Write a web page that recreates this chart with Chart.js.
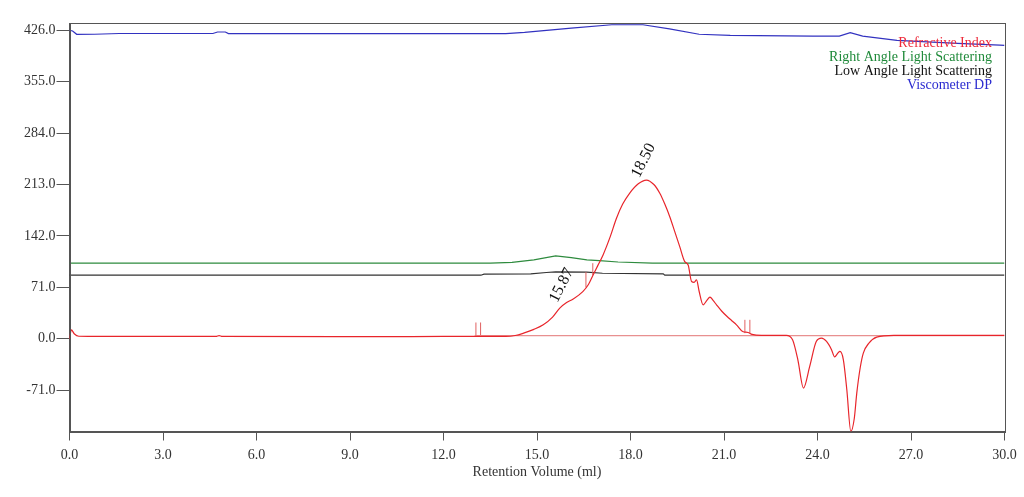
<!DOCTYPE html>
<html><head><meta charset="utf-8">
<script src="https://cdn.jsdelivr.net/npm/chart.js@4.4.1/dist/chart.umd.min.js"></script>
<style>html,body{margin:0;padding:0;background:#fff}#wrap{width:1024px;height:497px;position:relative}</style>
</head><body><div id="wrap"><canvas id="c"></canvas></div>
<script>
// ---- tick labels ----
const xTickValues = [0,3,6,9,12,15,18,21,24,27,30];
const yTickValues = [-71,0,71,142,213,284,355,426];
const xTitle = 'Retention Volume (ml)';

// ---- legend ----
const legendLabels = ['Refractive Index','Right Angle Light Scattering','Low Angle Light Scattering','Viscometer DP'];
const legendColors = ['#ee2a3a','#1f8a3a','#111111','#2a2ad0'];

// ---- Refractive Index (ml, mV) ----
const riX = [0,0.06,0.15,0.3,1,4.7,4.8,4.9,10,12,14.0,14.3,14.57,14.9,15.2,15.5,15.73,15.95,16.15,16.47,16.65,16.8,16.95,17.12,17.35,17.55,17.75,17.97,18.25,18.51,18.75,18.94,19.1,19.26,19.42,19.58,19.74,19.85,19.96,20.04,20.12,20.2,20.33,20.45,20.55,20.65,20.76,20.93,21.1,21.25,21.4,21.6,21.77,21.9,22.2,23.0,23.2,23.37,23.55,23.75,23.96,24.13,24.29,24.45,24.55,24.65,24.72,24.83,24.94,25.07,25.18,25.26,25.37,25.47,25.65,25.9,26.45,30];
const riY = [0,12.4,7,3.5,3.2,3.2,4.5,3.2,3.0,3.2,3.2,4.5,7.8,13,19.3,30,42.3,50,54.7,65.2,75,88.2,101,115.8,141,166.4,186,200.9,214,219.2,213,200.9,186,168.6,148,127.2,106.6,102,79,78,81.3,66,46.9,53,57.5,53,46.9,38,30.7,25,19.3,10,8.7,6,4.6,4.6,-1.4,-29,-68,-38,-3.7,1,-3.7,-15,-25,-20,-17.5,-29,-70,-127.8,-110,-75,-40,-19.7,-6,2.3,4.6,4.6];

// ---- RI baseline ----
const baseX = [13.0,30];
const baseY = [4.3,4.3];

// ---- Right Angle Light Scattering ----
const ralsX = [0,13.5,14.2,14.9,15.6,16.1,16.6,17.0,17.6,18.7,30];
const ralsY = [104.4,104.4,105.5,109,114.4,112,109,108,106,104.4,104.4];

// ---- Low Angle Light Scattering ----
const lalsX = [0,13.2,13.3,14.8,15.3,15.6,16.6,17.1,19.05,19.1,30];
const lalsY = [87.8,87.8,89.3,89.5,91.5,92.3,92,90.5,89.6,87.8,87.8];

// ---- Viscometer DP ----
const vdpX = [0,0.1,0.23,0.8,1.6,4.6,4.75,5.0,5.1,14,14.6,16.1,17.4,18.4,19.25,20.2,21.2,23.85,24.7,25.05,25.45,26.55,28.5,29.85,30];
const vdpY = [426,425,420.4,420.5,421.5,421.5,423.6,423.6,421.4,421.4,423,429,433.6,433.6,428,420.5,419,418,418,422.8,418,412,408,405.5,405];

// ---- slice markers (ml, from, to) ----
const markerX = [13.04,13.19,16.57,16.79,21.67,21.83];
const markerFrom = [4,4,71,88,7.8,7.8];
const markerTo = [22.5,22.5,92,104.4,26.2,26.2];

// ---- peak labels ----
const peakLabels = ['15.87','18.50'];
const peakX = [15.87,18.50];
const peakY = [47,219.2];

const zip = (xs, ys) => xs.map((x, i) => ({x, y: ys[i]}));
const serif = 'Liberation Serif, "Times New Roman", serif';

const datasets = [
  {label:'Viscometer DP', data: zip(vdpX, vdpY), borderColor:'#3232c0', borderWidth:1.2, order:4},
  {label:'Low Angle Light Scattering', data: zip(lalsX, lalsY), borderColor:'#333333', borderWidth:1.2, order:3},
  {label:'Right Angle Light Scattering', data: zip(ralsX, ralsY), borderColor:'#2e8b3e', borderWidth:1.2, order:2},
  {label:'baseline', data: zip(baseX, baseY), borderColor:'#e89090', borderWidth:1.2, order:1},
];
markerX.forEach((m, i) => {
  datasets.push({label:'marker', data:[{x:m,y:markerFrom[i]},{x:m,y:markerTo[i]}], borderColor:'#e06060', borderWidth:1, order:1});
});
datasets.push({label:'Refractive Index', data: zip(riX, riY), borderColor:'#e8252b', borderWidth:1.2, cubicInterpolationMode:'monotone', order:0});

const framePlugin = {
  id:'frame',
  afterDatasetsDraw(chart){
    const {ctx, chartArea:a} = chart;
    ctx.save();
    ctx.strokeStyle = '#555'; ctx.lineWidth = 1;
    ctx.strokeRect(Math.round(a.left)+0.5, Math.round(a.top)+0.5, Math.round(a.right-a.left), Math.round(a.bottom-a.top));
    // peak labels
    const xs = chart.scales.x, ys = chart.scales.y;
    ctx.fillStyle = '#111';
    ctx.font = '16px ' + serif;
    ctx.textAlign = 'center'; ctx.textBaseline = 'middle';
    peakLabels.forEach((t, i) => {
      const px = xs.getPixelForValue(peakX[i]) - 2.5;
      const py = ys.getPixelForValue(peakY[i]) - 19.5;
      ctx.save(); ctx.translate(px, py); ctx.rotate(-63*Math.PI/180);
      ctx.fillText(t, 0, 0); ctx.restore();
    });
    // legend
    ctx.font = '14px ' + serif;
    ctx.textAlign = 'right'; ctx.textBaseline = 'middle';
    legendLabels.forEach((t, i) => {
      ctx.fillStyle = legendColors[i];
      ctx.fillText(t, a.right - 12.5, a.top + 20.5 + i*13.9);
    });
    ctx.restore();
  }
};

const tickFont = {family: serif, size: 14};
new Chart(document.getElementById('c'), {
  type:'line',
  data:{datasets},
  options:{
    responsive:true, maintainAspectRatio:false, animation:false,
    layout:{padding:{top:23, right:19.5, left:0, bottom:0}},
    elements:{point:{radius:0}, line:{tension:0}},
    plugins:{legend:{display:false}, tooltip:{enabled:false}},
    scales:{
      x:{type:'linear', min:0, max:30, position:'bottom',
        afterBuildTicks: s => { s.ticks = xTickValues.map(v => ({value:v})); },
        afterFit: s => { s.height = 65.5; },
        ticks:{callback: v => Number(v).toFixed(1), font:tickFont, color:'#333', padding:6, maxRotation:0, autoSkip:false},
        grid:{drawOnChartArea:false, drawTicks:true, tickLength:9, color:'#555'},
        border:{color:'#555'},
        title:{display:true, text:xTitle, font:tickFont, color:'#333', padding:{top:0, bottom:16}}
      },
      y:{type:'linear', min:-128, max:436,
        afterBuildTicks: s => { s.ticks = yTickValues.map(v => ({value:v})); },
        afterFit: s => { s.width = 69.5; },
        ticks:{callback: v => Number(v).toFixed(1), font:tickFont, color:'#333', padding:1, autoSkip:false},
        grid:{drawOnChartArea:false, drawTicks:true, tickLength:13, color:'#555'},
        border:{color:'#555'}
      }
    }
  },
  plugins:[framePlugin]
});
</script></body></html>
